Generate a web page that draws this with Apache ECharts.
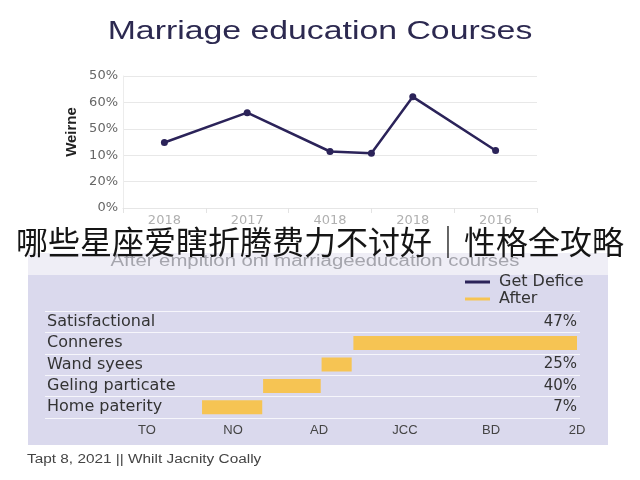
<!DOCTYPE html>
<html>
<head>
<meta charset="utf-8">
<script src="https://cdn.jsdelivr.net/npm/echarts@6/dist/echarts.min.js"></script>
<style>html,body{margin:0;padding:0;background:#fff;}#c{width:640px;height:480px;}</style>
</head>
<body>
<div id="c"></div>
<script>
// ---- Top line chart data ----
var lineSlots = ['', '2018', '', '2017', '', '4018', '', '2018', '', '2016', ''];
var lineValues = [null, 24.8, null, 36.1, null, 21.4, 20.7, 42.1, null, 21.8, null];
var lineYLabels = ['0%', '20%', '10%', '50%', '60%', '50%'];

// ---- Bottom bar chart data ----
var barCats = ['Satisfactional', 'Conneres', 'Wand syees', 'Geling particate', 'Home paterity'];
var barStart = [0, 2.40, 2.03, 1.35, 0.64];
var barLength = [0, 2.60, 0.35, 0.67, 0.70];
var barRightLabels = ['47%', '', '25%', '40%', '7%'];
var barXLabels = ['TO', 'NO', 'AD', 'JCC', 'BD', '2D'];

var FONT = '"Liberation Sans", Arial, sans-serif';
var WIDE = '"DejaVu Sans", sans-serif';
var chart = echarts.init(document.getElementById('c'), null, {renderer: 'canvas'});

var option = {
  animation: false,
  backgroundColor: '#ffffff',
  textStyle: {fontFamily: FONT},
  legend: {
    data: ['Get Defice', 'After'],
    orient: 'vertical',
    left: 465, top: 274, padding: 0,
    itemWidth: 25, itemHeight: 3, itemGap: 1,
    icon: 'rect',
    textStyle: {fontSize: 16, lineHeight: 15, color: '#333', fontFamily: WIDE, padding: [0, 0, 0, 4]}
  },
  graphic: [
    {type: 'rect', z: -10, shape: {x: 28, y: 253, width: 580, height: 22}, style: {fill: '#efeef6'}},
    {type: 'rect', z: -10, shape: {x: 28, y: 275, width: 580, height: 170}, style: {fill: '#dad9ed'}},
    {type: 'text', z: 5, x: 320, y: 32, scaleX: 1.3, style: {
      text: 'Marriage education Courses', fontSize: 26, fill: '#2c2950', fontFamily: FONT,
      align: 'center', verticalAlign: 'middle'}},
    {type: 'text', z: 5, x: 72, y: 132, rotation: Math.PI / 2, style: {
      text: 'Weirne', fontSize: 15, fontWeight: 'bold', fill: '#222', fontFamily: FONT,
      align: 'center', verticalAlign: 'middle'}},
    {type: 'text', z: 5, x: 315, y: 262, scaleX: 1.27, style: {
      text: 'After empition onl marriageeducation courses', fontSize: 16, fill: '#a5a5ad', fontFamily: FONT,
      align: 'center', verticalAlign: 'middle'}},
    {type: 'text', z: 5, x: 27, y: 460, scaleX: 1.28, style: {
      text: 'Tapt 8, 2021 || Whilt Jacnity Coally', fontSize: 12, fill: '#444', fontFamily: FONT,
      align: 'left', verticalAlign: 'middle'}},
    {type: 'text', z: 100, x: 320, y: 242, style: {
      text: '哪些星座爱瞎折腾费力不讨好｜性格全攻略', fontSize: 32, fill: '#151515',
      fontFamily: '"Noto Sans CJK SC"', align: 'center', verticalAlign: 'middle'}}
  ],
  grid: [
    {left: 123, right: 103, top: 76, height: 132},
    {left: 147, right: 63, top: 311, height: 107},
    {left: 45, right: 60, top: 311, height: 107}
  ],
  xAxis: [
    {
      gridIndex: 0, type: 'category', data: lineSlots, boundaryGap: false,
      axisLine: {show: true, lineStyle: {color: '#e6e6e6'}},
      axisTick: {show: true, interval: function (i) { return i % 2 === 0; }, length: 5, lineStyle: {color: '#e3e3e3'}},
      axisLabel: {interval: function (i) { return i % 2 === 1; }, color: '#b0b0b0', fontSize: 13, margin: 6, fontFamily: WIDE},
      splitLine: {show: false}
    },
    {
      gridIndex: 1, type: 'value', min: 0, max: 5, interval: 1,
      axisLine: {show: false}, axisTick: {show: false}, splitLine: {show: false},
      axisLabel: {color: '#444', fontSize: 13, margin: 6, formatter: function (v) { return barXLabels[Math.round(v)]; }}
    },
    {
      gridIndex: 2, type: 'value', min: 0, max: 1, show: false
    }
  ],
  yAxis: [
    {
      gridIndex: 0, type: 'value', min: 0, max: 50, interval: 10,
      axisLine: {show: true, lineStyle: {color: '#ececec'}},
      axisTick: {show: false},
      axisLabel: {color: '#666', fontSize: 13, margin: 5, fontFamily: WIDE,
        formatter: function (v) { return lineYLabels[Math.round(v / 10)]; }},
      splitLine: {show: true, lineStyle: {color: '#e8e8e8'}}
    },
    {
      gridIndex: 1, type: 'category', data: barCats, inverse: true, show: false
    },
    {
      gridIndex: 2, type: 'category', data: barCats, inverse: true,
      axisLine: {show: false}, axisTick: {show: false},
      axisLabel: {inside: true, margin: 2, color: '#333', fontSize: 16, fontFamily: WIDE},
      splitLine: {show: true, lineStyle: {color: '#f6f6fb', width: 1.2}}
    },
    {
      gridIndex: 2, type: 'category', data: barRightLabels, inverse: true, position: 'right',
      axisLine: {show: false}, axisTick: {show: false},
      axisLabel: {inside: true, margin: 3, color: '#333', fontSize: 15, fontFamily: WIDE}
    }
  ],
  series: [
    {
      name: 'Get Defice', type: 'line', xAxisIndex: 0, yAxisIndex: 0,
      data: lineValues, connectNulls: true,
      symbol: 'circle', symbolSize: 7,
      lineStyle: {color: '#2b2359', width: 2.5},
      itemStyle: {color: '#2b2359'}
    },
    {
      name: 'base', type: 'bar', xAxisIndex: 1, yAxisIndex: 1, stack: 'w',
      data: barStart, barWidth: 14,
      itemStyle: {color: 'rgba(0,0,0,0)'}
    },
    {
      name: 'After', type: 'bar', xAxisIndex: 1, yAxisIndex: 1, stack: 'w',
      data: barLength, barWidth: 14,
      itemStyle: {color: '#f6c453'}
    }
  ]
};
chart.setOption(option);
</script>
</body>
</html>
